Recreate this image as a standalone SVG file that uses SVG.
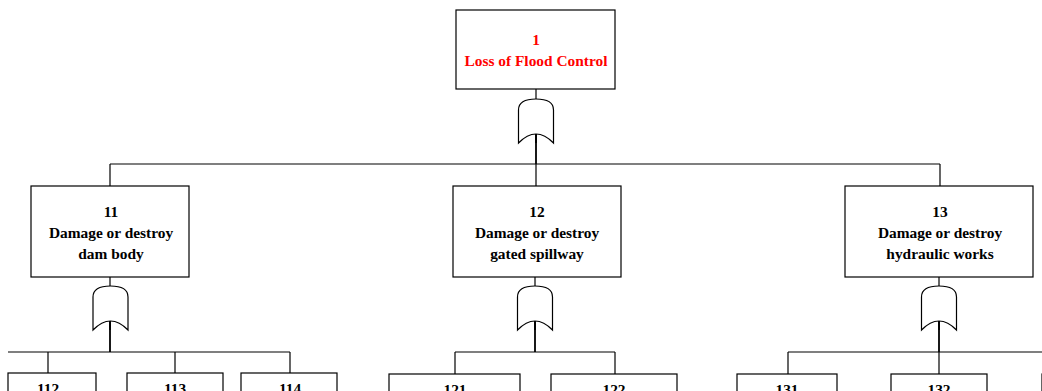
<svg xmlns="http://www.w3.org/2000/svg" xmlns:xlink="http://www.w3.org/1999/xlink" width="1042" height="391" viewBox="0 0 1042 391">
<style>
.box{fill:#fff;stroke:#000;stroke-width:1.2}
.t{font-family:"Liberation Serif","Times New Roman",serif;font-weight:bold;font-size:15.4px;text-anchor:middle;fill:#000}
.red{fill:#ff0000}
.ln{stroke:#000;stroke-width:1.2;fill:none}
.thk{stroke:#000;stroke-width:1.8;fill:none}
.gate{fill:#fff;stroke:#000;stroke-width:1.2}
</style>
<defs>
<path id="g" d="M-17.5,44 L-17.5,11 Q-17.5,0 0,0 Q17.5,0 17.5,11 L17.5,44 Q0,26 -17.5,44 Z"/>
</defs>
<rect width="1042" height="391" fill="#fff"/>
<g id="connectors">
<line class="ln" x1="536" y1="89" x2="536" y2="99"/>
<line class="thk" x1="536" y1="134" x2="536" y2="164"/>
<line class="ln" x1="110" y1="164" x2="940" y2="164"/>
<line class="ln" x1="110" y1="164" x2="110" y2="186"/>
<line class="ln" x1="536" y1="164" x2="536" y2="186"/>
<line class="ln" x1="940" y1="164" x2="940" y2="186"/>
<line class="ln" x1="110" y1="277" x2="110" y2="286"/>
<line class="thk" x1="110" y1="321" x2="110" y2="352"/>
<line class="ln" x1="8" y1="352" x2="290" y2="352"/>
<line class="ln" x1="48" y1="352" x2="48" y2="373"/>
<line class="ln" x1="175" y1="352" x2="175" y2="373"/>
<line class="ln" x1="290" y1="352" x2="290" y2="373"/>
<line class="ln" x1="535" y1="277" x2="535" y2="286"/>
<line class="thk" x1="535" y1="321" x2="535" y2="352"/>
<line class="ln" x1="455" y1="352" x2="615" y2="352"/>
<line class="ln" x1="455" y1="352" x2="455" y2="374"/>
<line class="ln" x1="615" y1="352" x2="615" y2="374"/>
<line class="ln" x1="939" y1="277" x2="939" y2="286"/>
<line class="thk" x1="939" y1="321" x2="939" y2="352"/>
<line class="ln" x1="788" y1="352" x2="1042" y2="352"/>
<line class="ln" x1="788" y1="352" x2="788" y2="374"/>
<line class="ln" x1="939" y1="352" x2="939" y2="374"/>
</g>
<g id="gate1"><use xlink:href="#g" href="#g" class="gate" x="536" y="99"/><line class="thk" x1="536" y1="134" x2="536" y2="143"/></g>
<g id="gate11"><use xlink:href="#g" href="#g" class="gate" x="110.5" y="286"/><line class="thk" x1="110" y1="321" x2="110" y2="330"/></g>
<g id="gate12"><use xlink:href="#g" href="#g" class="gate" x="535" y="286"/><line class="thk" x1="535" y1="321" x2="535" y2="330"/></g>
<g id="gate13"><use xlink:href="#g" href="#g" class="gate" x="939" y="286"/><line class="thk" x1="939" y1="321" x2="939" y2="330"/></g>
<g id="n1">
<rect class="box" x="456" y="10" width="159" height="79"/>
<text class="t red" x="536" y="45">1</text>
<text class="t red" x="536" y="66">Loss of Flood Control</text>
</g>
<g id="n11">
<rect class="box" x="31" y="186" width="158" height="91"/>
<text class="t" x="111" y="217">11</text>
<text class="t" x="111" y="238">Damage or destroy</text>
<text class="t" x="111" y="259">dam body</text>
</g>
<g id="n12">
<rect class="box" x="453" y="186" width="168" height="91"/>
<text class="t" x="537" y="217">12</text>
<text class="t" x="537" y="238">Damage or destroy</text>
<text class="t" x="537" y="259">gated spillway</text>
</g>
<g id="n13">
<rect class="box" x="845" y="186" width="188" height="91"/>
<text class="t" x="940" y="217">13</text>
<text class="t" x="940" y="238">Damage or destroy</text>
<text class="t" x="940" y="259">hydraulic works</text>
</g>
<g id="n112"><rect class="box" x="8" y="373" width="88" height="40"/><text class="t" x="48" y="394">112</text></g>
<g id="n113"><rect class="box" x="127" y="373" width="96" height="40"/><text class="t" x="175" y="394">113</text></g>
<g id="n114"><rect class="box" x="241" y="373" width="96" height="40"/><text class="t" x="290" y="394">114</text></g>
<g id="n121"><rect class="box" x="389" y="374" width="131" height="40"/><text class="t" x="455" y="395">121</text></g>
<g id="n122"><rect class="box" x="551" y="374" width="126" height="40"/><text class="t" x="614" y="395">122</text></g>
<g id="n131"><rect class="box" x="737" y="374" width="100" height="40"/><text class="t" x="787" y="395">131</text></g>
<g id="n132"><rect class="box" x="891" y="374" width="96" height="40"/><text class="t" x="939" y="395">132</text></g>
<g id="n133"><rect class="box" x="1042" y="374" width="100" height="40"/></g>
</svg>
